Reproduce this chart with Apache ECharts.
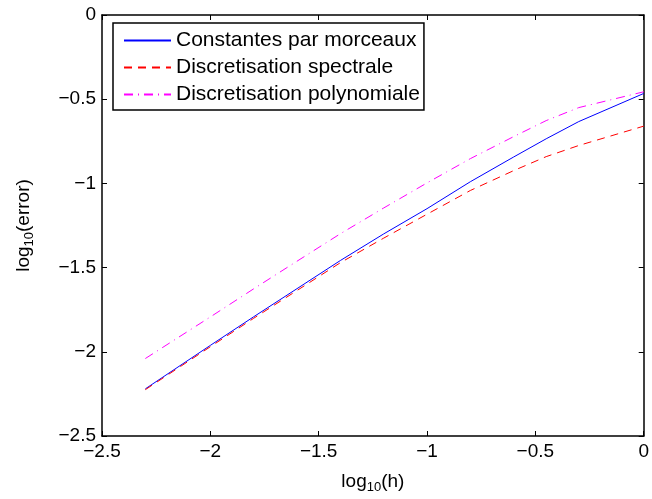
<!DOCTYPE html>
<html>
<head>
<meta charset="utf-8">
<title>log10(error) vs log10(h)</title>
<script src="https://cdn.jsdelivr.net/npm/echarts@6/dist/echarts.min.js"></script>
<style>
  html, body { margin: 0; padding: 0; background: #fff; }
  #main { width: 652px; height: 499px; }
</style>
</head>
<body>
<div id="main"></div>
<script>
// log10(h) sample positions and log10(error)
var logH = [-2.3, -2.0, -1.8, -1.6, -1.4, -1.2, -1.0, -0.8, -0.6, -0.45, -0.3, 0];
var constantes = [-2.22, -1.962, -1.792, -1.625, -1.458, -1.30, -1.15, -0.99, -0.843, -0.735, -0.633, -0.466];
var spectrale = [-2.225, -1.97, -1.801, -1.636, -1.471, -1.325, -1.183, -1.042, -0.924, -0.841, -0.775, -0.66];
var polynomiale = [-2.04, -1.793, -1.626, -1.462, -1.299, -1.146, -0.997, -0.853, -0.722, -0.627, -0.55, -0.456];
var seriesNames = ['Constantes par morceaux', 'Discretisation spectrale', 'Discretisation polynomiale'];

var FONT = 'Liberation Sans';

function pairs(ys) {
    return logH.map(function (x, i) { return [x, ys[i]]; });
}
function tickFmt(v) {
    return v === 0 ? '0' : String(v).replace('-', '\u2212');
}

var chart = echarts.init(document.getElementById('main'));

var frameAxis = {
    type: 'value', min: -2.5, max: 0, interval: 0.5,
    axisLine: { show: true, onZero: false, lineStyle: { color: '#000', width: 1.5 } },
    axisTick: { show: true, inside: true, length: 5, lineStyle: { color: '#000' } },
    splitLine: { show: false }
};

chart.setOption({
    animation: false,
    backgroundColor: '#fff',
    grid: { left: 102, right: 7, top: 15, bottom: 55 },
    xAxis: [
        Object.assign({}, frameAxis, {
            position: 'bottom',
            axisLabel: { color: '#000', fontSize: 19, fontFamily: FONT, margin: 6, formatter: tickFmt },
            name: '{a|log}{b|10}{a|(h)}',
            nameLocation: 'middle',
            nameGap: 33,
            nameTextStyle: {
                rich: {
                    a: { fontSize: 19, fontFamily: FONT, color: '#000' },
                    b: { fontSize: 13, fontFamily: FONT, color: '#000', padding: [12, 0, 0, 0] }
                }
            }
        }),
        Object.assign({}, frameAxis, { position: 'top', axisLabel: { show: false } })
    ],
    yAxis: [
        Object.assign({}, frameAxis, {
            position: 'left',
            axisLabel: { color: '#000', fontSize: 19, fontFamily: FONT, margin: 6, formatter: tickFmt },
            name: '{a|log}{b|10}{a|(error)}',
            nameLocation: 'middle',
            nameRotate: 90,
            nameGap: 66,
            nameTextStyle: {
                rich: {
                    a: { fontSize: 19, fontFamily: FONT, color: '#000' },
                    b: { fontSize: 13, fontFamily: FONT, color: '#000', padding: [12, 0, 0, 0] }
                }
            }
        }),
        Object.assign({}, frameAxis, { position: 'right', axisLabel: { show: false } })
    ],
    legend: {
        orient: 'vertical',
        left: 113,
        top: 23,
        data: seriesNames,
        itemWidth: 47,
        itemHeight: 14,
        itemGap: 6,
        itemTextGap: 6,
        padding: [7, 4, 5, 10],
        backgroundColor: '#fff',
        borderColor: '#000',
        borderWidth: 1.5,
        borderRadius: 0,
        itemStyle: { opacity: 0 },
        textStyle: { color: '#000', fontSize: 21, fontFamily: FONT, lineHeight: 20 }
    },
    series: [
        {
            name: seriesNames[0], type: 'line', data: pairs(constantes),
            symbol: 'none', color: '#0000ff',
            lineStyle: { width: 1, color: '#0000ff', type: 'solid' }
        },
        {
            name: seriesNames[1], type: 'line', data: pairs(spectrale),
            symbol: 'none', color: '#ff0000',
            lineStyle: { width: 1, color: '#ff0000', type: [8, 6] }
        },
        {
            name: seriesNames[2], type: 'line', data: pairs(polynomiale),
            symbol: 'none', color: '#ff00ff',
            lineStyle: { width: 1, color: '#ff00ff', type: [9, 5, 1, 5] }
        }
    ]
});
</script>
</body>
</html>
